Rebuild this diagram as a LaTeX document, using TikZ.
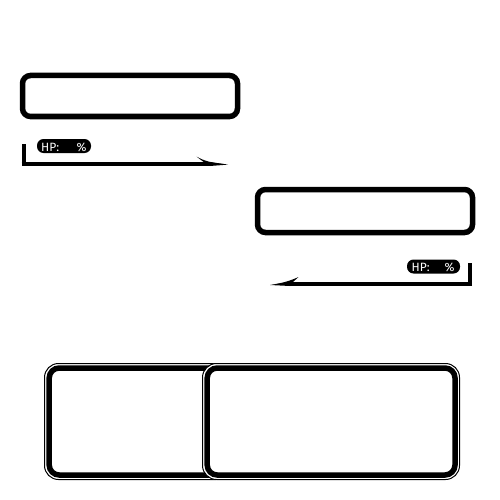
\documentclass[tikz,border=0pt]{standalone}
\usepackage{fontspec}
\setsansfont{Fira Sans}
\begin{document}
\begin{tikzpicture}[x=1pt,y=-1pt,
  panel/.style={draw=black, line width=5.5pt, rounded corners=8pt, fill=white, inner sep=0pt, shape=rectangle},
  thinframe/.style={draw=black, line width=1pt, rounded corners=14pt, fill=white},
  thickframe/.style={draw=black, line width=5.5pt, rounded corners=10pt},
  hppill/.style={fill=black, rounded corners=6.5pt, inner sep=0pt, minimum height=14pt, shape=rectangle},
  hptext/.style={text=white, font=\sffamily\fontsize{12}{14}\selectfont, inner sep=0pt},
  bracketline/.style={draw=black, line width=4pt},
  tipfill/.style={fill=black}]
\useasboundingbox (0,0) rectangle (500,500);
\fill[white] (0,0) rectangle (500,500);

% top panels
\node[panel, minimum width=215pt, minimum height=41pt] (b1) at (130,96) {};
\node[panel, minimum width=215pt, minimum height=43pt] (b2) at (365,211) {};

% bracket 1
\coordinate (l1top) at (23.5,144);
\coordinate (l1end) at (212,164);
\draw[bracketline] (l1top) -- (23.5,166);
\draw[bracketline] (21.5,164) -- (l1end);
\fill[tipfill] (210,162) -- (228,164.6) -- (210,166) -- cycle;
\fill[tipfill] (196.5,156.5) .. controls (204,161) and (212,163) .. (226,164.3) -- (210,164.5) .. controls (204,162.5) .. (196.5,156.5) -- cycle;
\node[hppill, minimum width=54pt] (hp1) at (64,146) {};
\node[hptext, anchor=base west] (hp1a) at (41,151) {HP:};
\node[hptext, anchor=base west] (hp1b) at (76.5,151) {\%};

% bracket 2
\coordinate (l2top) at (470,263);
\coordinate (l2end) at (288,284);
\draw[bracketline] (l2top) -- (470,286);
\draw[bracketline] (472,284) -- (l2end);
\fill[tipfill] (290,282) -- (270,285) -- (290,286) -- cycle;
\fill[tipfill] (298.5,277) .. controls (291,280.5) and (283,283) .. (272,284.6) -- (290,284.5) .. controls (293,282) .. (298.5,277) -- cycle;
\node[hppill, minimum width=53pt] (hp2) at (433.5,266.5) {};
\node[hptext, anchor=base west] (hp2a) at (411.5,271.5) {HP:};
\node[hptext, anchor=base west] (hp2b) at (444.5,271.5) {\%};

% bottom frames
\draw[thinframe] (44.5,363.5) rectangle (230,479.5);
\draw[thickframe] (49.2,368) rectangle (226,475);
\draw[thinframe] (202.5,363.5) rectangle (459.5,479.5);
\draw[thickframe] (207.2,368) rectangle (455,475);
\end{tikzpicture}
\end{document}
